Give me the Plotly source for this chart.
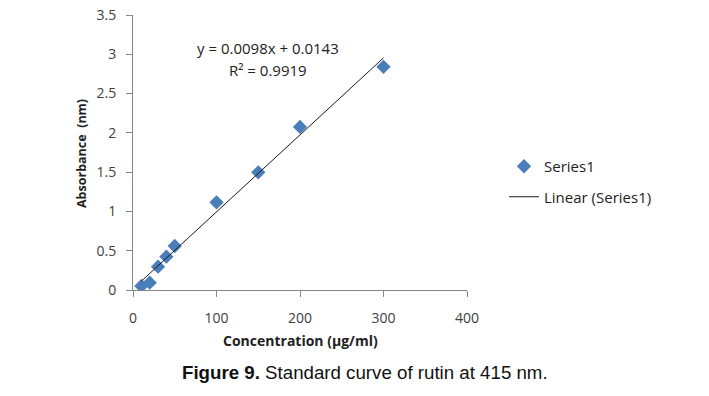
import plotly.graph_objects as go

concentration = [10, 20, 30, 40, 50, 100, 150, 200, 300]
absorbance = [0.051, 0.093, 0.297, 0.424, 0.56, 1.116, 1.498, 2.075, 2.84]
slope = 0.0098
intercept = 0.0143
x_ticks = [0, 100, 200, 300, 400]
y_ticks = [0, 0.5, 1, 1.5, 2, 2.5, 3, 3.5]

fit_x = [min(concentration), max(concentration)]
fit_y = [slope * v + intercept for v in fit_x]

font_family = "Open Sans, DejaVu Sans, sans-serif"

# plot area on screen spans x 133..467, y 15..290 (page body margin removed)
L, T, W, H = 133, 15, 334, 275
PX0, PY0 = L, T


def px(xs):
    return (xs - PX0) / W


def py(ys):
    return (PY0 + H - ys) / H


fig = go.Figure()
fig.add_trace(go.Scatter(
    x=concentration, y=absorbance, mode="markers", name="Series1",
    marker=dict(symbol="diamond", size=11, color="#4a7ebb"),
    legendgroup="a",
))
fig.add_trace(go.Scatter(
    x=fit_x, y=fit_y, mode="lines", name="Linear (Series1)",
    line=dict(color="#1a1a1a", width=1),
    legendgroup="b",
))

eq_font = dict(family=font_family, size=15, color="#222222")
fig.add_annotation(x=px(268), y=py(48), xref="paper", yref="paper",
                   text="y = 0.0098x + 0.0143", showarrow=False,
                   xanchor="center", yanchor="middle", font=eq_font)
fig.add_annotation(x=px(268), y=py(70), xref="paper", yref="paper",
                   text="R² = 0.9919", showarrow=False,
                   xanchor="center", yanchor="middle", font=eq_font)

# axis titles
fig.add_annotation(x=px(300), y=py(340), xref="paper", yref="paper",
                   text="<b>Concentration (µg/ml)</b>", showarrow=False,
                   xanchor="center", yanchor="middle",
                   font=dict(family=font_family, size=14, color="#222222"))
fig.add_annotation(x=px(82), y=py(154), xref="paper", yref="paper",
                   text="<b>Absorbance  (nm)</b>", showarrow=False, textangle=-90,
                   xanchor="center", yanchor="middle",
                   font=dict(family=font_family, size=12.5, color="#222222"))

# caption
fig.add_annotation(x=px(365), y=py(372), xref="paper", yref="paper",
                   text="<b>Figure 9.</b> Standard curve of rutin at 415 nm.",
                   showarrow=False, xanchor="center", yanchor="middle",
                   font=dict(family="Liberation Sans, Arial, sans-serif", size=18.7, color="#111111"))

fig.update_layout(
    width=709, height=396,
    margin=dict(l=L, r=709 - L - W, t=T, b=396 - T - H, autoexpand=False),
    paper_bgcolor="white", plot_bgcolor="white",
    font=dict(family=font_family, size=14, color="#404040"),
    legend=dict(
        x=px(504), y=py(150), xanchor="left", yanchor="top",
        font=dict(family=font_family, size=15, color="#222222"),
        tracegroupgap=8, bgcolor="rgba(0,0,0,0)",
    ),
    showlegend=True,
)
fig.update_xaxes(
    range=[0, 400], tickvals=x_ticks, showgrid=False, zeroline=False,
    showline=True, linecolor="#868686", linewidth=1,
    ticks="outside", ticklen=6, tickcolor="#868686",
    ticklabelstandoff=9, ticklabeloverflow="allow", automargin=False,
    tickfont=dict(family=font_family, size=14, color="#404040"),
)
fig.update_yaxes(
    range=[0, 3.5], tickvals=y_ticks, showgrid=False, zeroline=False,
    showline=True, linecolor="#868686", linewidth=1,
    ticks="outside", ticklen=6, tickcolor="#868686",
    ticklabelstandoff=7, ticklabeloverflow="allow", automargin=False,
    tickfont=dict(family=font_family, size=14, color="#404040"),
)

fig.write_html("out.html", config={"displayModeBar": False},
               post_script="document.body.style.margin='0';")
